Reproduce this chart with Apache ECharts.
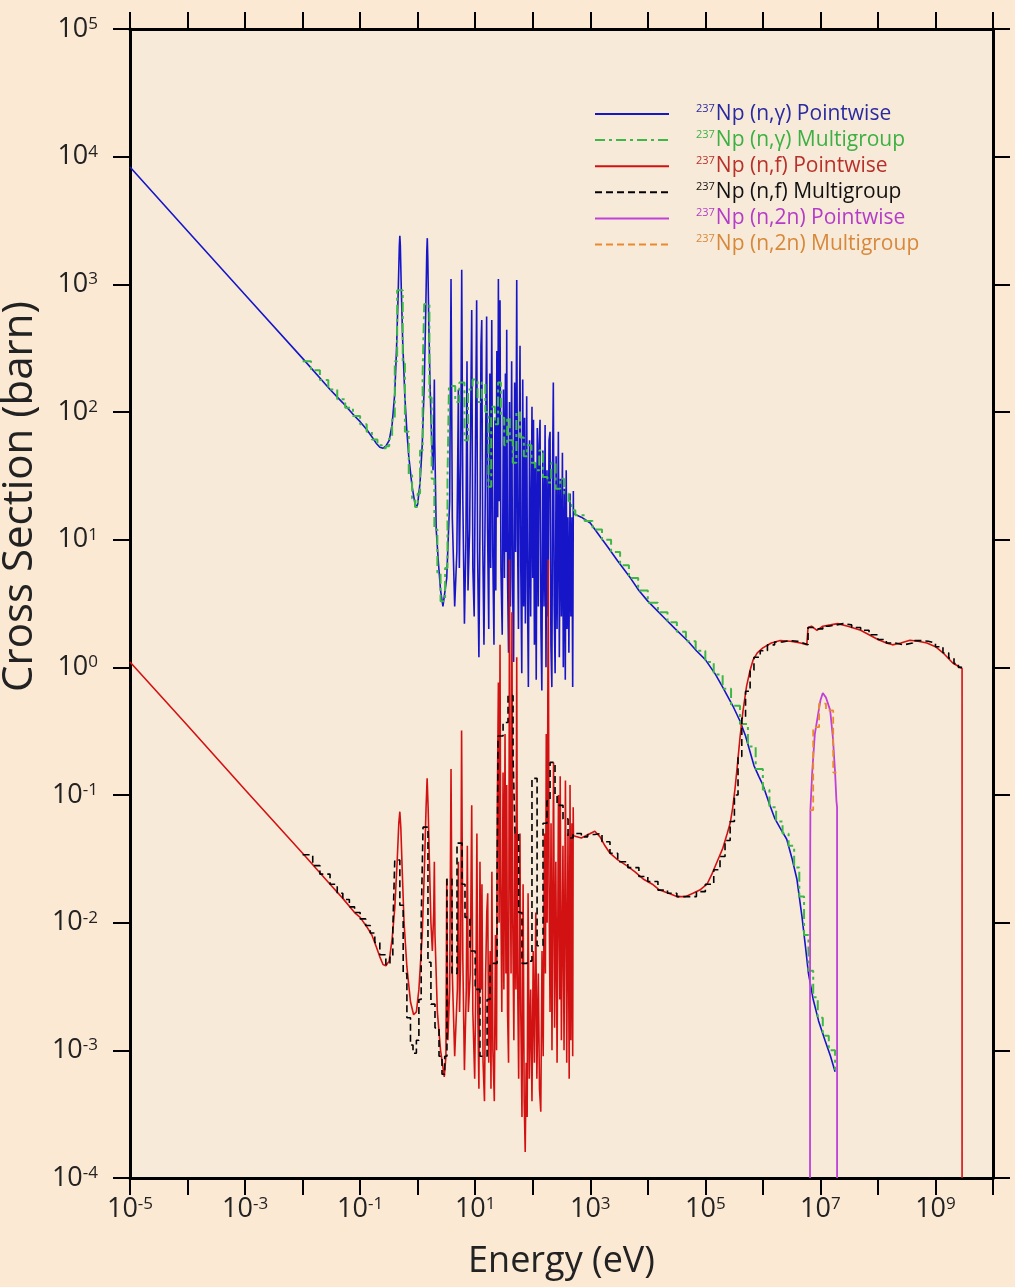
<!DOCTYPE html>
<html>
<head>
<meta charset="utf-8">
<script src="https://cdn.jsdelivr.net/npm/echarts@6/dist/echarts.min.js"></script>
<style>
  html, body { margin: 0; padding: 0; background: #FBE9D3; }
  #chart { width: 1015px; height: 1287px; }
</style>
</head>
<body>
<div id="chart"></div>
<script>
// energy (eV), cross section (barn) pairs

// 237Np (n,gamma) pointwise
var gammaThermal = [
  [1e-5, 8300], [1e-4, 2620], [1e-3, 830], [1e-2, 263], [0.03, 150], [0.05, 118], [0.08, 93],
  [0.1, 84], [0.13, 73], [0.16, 64], [0.19, 57], [0.22, 53], [0.25, 52], [0.28, 54], [0.32, 60],
  [0.36, 80], [0.4, 140], [0.43, 320], [0.46, 900], [0.48, 2000], [0.49, 2400], [0.5, 2000],
  [0.52, 900], [0.55, 350], [0.6, 130], [0.65, 70], [0.7, 45], [0.8, 26], [0.9, 19], [0.95, 18],
  [1.0, 19], [1.1, 28], [1.2, 55], [1.3, 160], [1.38, 600], [1.44, 1800], [1.47, 2300],
  [1.5, 1600], [1.56, 500], [1.65, 150], [1.75, 60], [1.85, 35], [1.92, 100], [1.95, 180],
  [1.98, 60], [2.1, 12], [2.3, 6.5], [2.5, 4], [2.75, 3.0]
];
var gammaResonance = [
  [3.2, 5], [3.6, 20], [3.8, 1100], [4.0, 15], [4.4, 3], [4.8, 8], [5.1, 150], [5.3, 6],
  [5.6, 40], [5.83, 1300], [6.1, 20], [6.5, 2.2], [6.9, 10], [7.2, 250], [7.5, 4], [8.0, 12],
  [8.7, 630], [9.1, 6], [9.6, 2.5], [10.0, 30], [10.6, 750], [11.0, 8], [11.6, 1.2], [12.2, 20],
  [12.6, 330], [13.0, 525], [13.5, 10], [14.2, 1.5], [15.0, 25], [15.8, 560], [16.4, 12],
  [17.2, 2.0], [18.0, 200], [18.6, 6], [19.4, 525], [20.2, 8], [21.2, 1.5], [22.0, 90],
  [22.8, 4], [23.8, 300], [24.6, 15], [25.3, 1100], [26.0, 20], [27.0, 750], [28.0, 6],
  [29.5, 1.8], [31.0, 150], [32.2, 5], [33.5, 200], [34.5, 8], [35.3, 440], [36.5, 5],
  [38.0, 1.3], [39.5, 120], [41.0, 3], [43.0, 250], [44.5, 5], [46.5, 1.1], [48.5, 170],
  [50.5, 8], [52.7, 1080], [54.5, 10], [56.5, 2.0], [58.5, 60], [60.1, 330], [62.0, 6],
  [64.5, 0.9], [67.0, 180], [69.5, 3], [72.0, 90], [74.5, 2.2], [78.5, 133], [81.0, 4],
  [84.0, 0.7], [88.0, 60], [92.0, 2.5], [97.0, 110], [100, 5], [103, 87], [107, 1.5],
  [111, 40], [115, 0.8], [120, 75], [125, 3], [129, 55], [134, 87], [139, 2.0], [144, 0.66],
  [150, 50], [157, 3], [164, 79], [170, 1.0], [177, 35], [184, 2.5], [192, 60], [200, 70],
  [207, 1.5], [215, 0.7], [222, 40], [228, 170], [236, 3], [245, 0.9], [255, 45], [265, 2],
  [279, 70], [290, 1.2], [302, 30], [315, 2.5], [328, 48], [340, 1.0], [355, 25], [368, 0.8],
  [382, 35], [395, 2], [410, 15], [425, 1.3], [445, 23], [460, 2.5], [480, 15], [495, 0.7],
  [508, 24], [510, 16]
];
var gammaFast = [
  [700, 15], [1000, 13.5], [1500, 10.5], [2000, 8.8], [3000, 6.8], [5000, 5.0], [7000, 4.0],
  [1e4, 3.3], [2e4, 2.4], [3e4, 2.0], [5e4, 1.6], [7e4, 1.35], [1e5, 1.15], [1.5e5, 0.88],
  [2e5, 0.7], [3e5, 0.5], [4e5, 0.38], [5e5, 0.29], [7e5, 0.17], [8.5e5, 0.14], [1e6, 0.12],
  [1.3e6, 0.085], [1.6e6, 0.066], [2e6, 0.055], [2.6e6, 0.045], [3.2e6, 0.032], [3.9e6, 0.022],
  [4.8e6, 0.011], [5.5e6, 0.0065], [6.2e6, 0.004], [7.5e6, 0.0025], [9.3e6, 0.0017],
  [1.2e7, 0.0012], [1.5e7, 0.0009], [1.8e7, 0.00068]
];

// 237Np (n,gamma) multigroup: [group lower energy, group value]
var gammaGroups = [
  [0.01, 250], [0.014, 212], [0.02, 178], [0.028, 150], [0.04, 126], [0.055, 108], [0.075, 93],
  [0.1, 80], [0.13, 70], [0.16, 61], [0.2, 55], [0.24, 52], [0.28, 54], [0.32, 62], [0.36, 90],
  [0.4, 250], [0.44, 900], [0.55, 240], [0.6, 70], [0.7, 32], [0.8, 21], [0.9, 18], [1.0, 23],
  [1.1, 50], [1.22, 200], [1.3, 700], [1.6, 130], [1.75, 30], [1.95, 12], [2.2, 5.5], [2.5, 3.3],
  [3.0, 6], [3.3, 30], [3.5, 160], [4.5, 120], [5.3, 170], [6.5, 60], [7.5, 150], [9.0, 180],
  [11, 120], [13, 170], [15, 100], [17, 26], [19, 110], [22, 80], [25, 170], [28, 90], [32, 55],
  [36, 90], [40, 60], [45, 40], [52, 100], [60, 63], [70, 45], [80, 55], [95, 40], [110, 35],
  [130, 50], [150, 31], [180, 28], [210, 40], [250, 25], [300, 30], [350, 23], [420, 20],
  [480, 17], [550, 15.5], [800, 14], [1100, 12], [1600, 10], [2300, 8], [3300, 6.3], [4700, 5],
  [6800, 4], [1e4, 3.2], [1.5e4, 2.7], [2.2e4, 2.25], [3.2e4, 1.9], [4.6e4, 1.6], [6.8e4, 1.35],
  [1e5, 1.1], [1.4e5, 0.88], [2e5, 0.68], [2.8e5, 0.5], [4e5, 0.36], [5.5e5, 0.24], [7.5e5, 0.16],
  [1e6, 0.11], [1.3e6, 0.08], [1.7e6, 0.062], [2.2e6, 0.05], [2.8e6, 0.04], [3.5e6, 0.027],
  [4.3e6, 0.016], [5.2e6, 0.008], [6.2e6, 0.0042], [7.5e6, 0.0026], [9e6, 0.0018],
  [1.1e7, 0.0013], [1.4e7, 0.001], [1.8e7, 0.0007]
];

// 237Np (n,f) pointwise
var fissionThermal = [
  [1e-5, 1.1], [1e-4, 0.35], [1e-3, 0.11], [1e-2, 0.035], [0.03, 0.02], [0.05, 0.0155],
  [0.08, 0.012], [0.1, 0.011], [0.13, 0.0093], [0.16, 0.008], [0.19, 0.0065], [0.22, 0.0054],
  [0.25, 0.0047], [0.28, 0.0046], [0.32, 0.005], [0.36, 0.0075], [0.4, 0.013], [0.44, 0.03],
  [0.47, 0.06], [0.49, 0.074], [0.51, 0.055], [0.54, 0.025], [0.58, 0.01], [0.65, 0.0045],
  [0.75, 0.0024], [0.85, 0.0019], [0.95, 0.002], [1.05, 0.003], [1.2, 0.008], [1.32, 0.03],
  [1.4, 0.08], [1.46, 0.135], [1.52, 0.08], [1.6, 0.03], [1.7, 0.01], [1.8, 0.006], [1.9, 0.012],
  [1.95, 0.03], [2.0, 0.008], [2.2, 0.002], [2.5, 0.001], [2.9, 0.00062]
];
var fissionResonance = [
  [3.1, 0.0009], [3.2, 0.022], [3.35, 0.0012], [3.6, 0.003], [3.8, 0.16], [4.0, 0.004],
  [4.4, 0.0009], [4.9, 0.003], [5.1, 0.03], [5.35, 0.002], [5.6, 0.006], [5.8, 0.32],
  [6.1, 0.005], [6.5, 0.0007], [7.0, 0.003], [7.3, 0.04], [7.6, 0.002], [8.2, 0.004],
  [8.7, 0.083], [9.1, 0.002], [9.8, 0.0006], [10.4, 0.006], [10.7, 0.05], [11.1, 0.002],
  [11.6, 0.0005], [12.1, 0.03], [12.6, 0.003], [13.1, 0.02], [13.7, 0.0008], [14.5, 0.0004],
  [15.2, 0.004], [15.9, 0.012], [16.5, 0.017], [17.2, 0.0008], [18.2, 0.006], [18.8, 0.0005],
  [19.5, 0.025], [20.3, 0.001], [21.5, 0.0004], [22.5, 0.008], [23.5, 0.001], [24.2, 0.08],
  [25.3, 0.76], [26.0, 0.01], [27.0, 1.5], [27.8, 0.02], [29.0, 0.002], [30.5, 0.15],
  [31.5, 0.003], [33.0, 0.3], [34.2, 0.004], [35.3, 0.12], [36.5, 0.002], [38.0, 0.0008],
  [39.5, 7.0], [40.5, 0.05], [42.0, 0.004], [43.5, 2.7], [45.0, 0.01], [47.0, 0.0012],
  [49.0, 0.05], [51.0, 0.003], [52.7, 1.2], [54.5, 0.004], [57.0, 0.0006], [60.0, 0.05],
  [62.0, 0.002], [65.0, 0.0003], [68.0, 0.02], [71.0, 0.0004], [74.0, 0.00016], [77.0, 0.0008],
  [80.0, 0.0003], [83.0, 0.017], [87.0, 0.0006], [92.0, 0.003], [97.0, 0.0004], [102, 0.006],
  [107, 0.0008], [113, 0.012], [118, 0.0006], [125, 0.004], [131, 0.0005], [138, 0.00033],
  [145, 0.006], [152, 0.0009], [160, 0.05], [166, 0.004], [172, 0.3], [178, 0.01], [186, 7.0],
  [192, 0.02], [200, 0.002], [208, 0.06], [216, 0.001], [230, 0.18], [240, 0.0015], [252, 0.03],
  [265, 0.0008], [280, 0.1], [295, 0.0025], [300, 0.14], [315, 0.0012], [335, 0.04], [350, 0.001],
  [370, 0.13], [390, 0.0008], [410, 0.05], [430, 0.0006], [445, 0.12], [460, 0.0012], [480, 0.06],
  [495, 0.0009], [505, 0.08], [510, 0.048]
];
var fissionFast = [
  [700, 0.046], [1000, 0.05], [1200, 0.052], [1480, 0.047], [1800, 0.04], [2200, 0.035],
  [3000, 0.031], [4300, 0.028], [6000, 0.025], [8300, 0.022], [1.2e4, 0.02], [1.6e4, 0.018],
  [2.3e4, 0.017], [3.2e4, 0.016], [4.5e4, 0.016], [6.1e4, 0.017], [8e4, 0.018], [1.07e5, 0.02],
  [1.3e5, 0.024], [1.6e5, 0.03], [2e5, 0.038], [2.4e5, 0.05], [2.7e5, 0.06], [3e5, 0.08],
  [3.3e5, 0.115], [3.6e5, 0.17], [4e5, 0.28], [4.5e5, 0.45], [5.2e5, 0.71], [6e5, 0.95],
  [6.8e5, 1.15], [8e5, 1.3], [1e6, 1.42], [1.4e6, 1.55], [2e6, 1.62], [3e6, 1.6], [4.5e6, 1.55],
  [5.8e6, 1.5], [6.1e6, 2.05], [7e6, 2.1], [8.7e6, 1.95], [1.1e7, 2.1], [1.5e7, 2.15],
  [2e7, 2.2], [3e7, 2.1], [5e7, 1.95], [7e7, 1.8], [1e8, 1.65], [1.4e8, 1.55], [1.8e8, 1.5],
  [2.5e8, 1.55], [3.6e8, 1.63], [5e8, 1.6], [7.1e8, 1.55], [1e9, 1.45], [1.35e9, 1.3],
  [2e9, 1.08], [2.9e9, 0.98], [2.9e9, 0.0001]
];

// 237Np (n,f) multigroup
var fissionGroups = [
  [0.01, 0.034], [0.015, 0.028], [0.02, 0.024], [0.03, 0.02], [0.04, 0.017], [0.05, 0.0152],
  [0.065, 0.0133], [0.08, 0.012], [0.1, 0.0107], [0.125, 0.0095], [0.15, 0.0083], [0.18, 0.007],
  [0.22, 0.0056], [0.28, 0.0047], [0.33, 0.0055], [0.37, 0.009], [0.4, 0.031], [0.49, 0.0137],
  [0.56, 0.004], [0.65, 0.0018], [0.75, 0.0011], [0.83, 0.00095], [0.95, 0.0012], [1.05, 0.0025],
  [1.15, 0.01], [1.24, 0.056], [1.51, 0.0049], [1.7, 0.0023], [2.0, 0.0015], [2.35, 0.0009],
  [2.65, 0.00065], [2.95, 0.0009], [3.23, 0.022], [3.95, 0.004], [4.83, 0.042], [5.9, 0.02],
  [6.65, 0.011], [8.1, 0.006], [10, 0.003], [12.1, 0.0009], [16.1, 0.0025], [18.1, 0.0048],
  [24, 0.02], [25, 0.29], [30.5, 0.37], [37.2, 0.6], [45.5, 0.2], [49.2, 0.05], [57, 0.012],
  [65, 0.0048], [79.5, 0.005], [97, 0.135], [119, 0.0066], [151, 0.06], [177, 0.09], [200, 0.18],
  [244, 0.1], [265, 0.083], [336, 0.065], [411, 0.046], [502, 0.05], [700, 0.047], [900, 0.049],
  [1200, 0.05], [1600, 0.043], [2200, 0.035], [3000, 0.03], [4500, 0.027], [7000, 0.023],
  [1e4, 0.021], [1.5e4, 0.018], [2.2e4, 0.017], [3.2e4, 0.016], [5e4, 0.016], [7e4, 0.0175],
  [1e5, 0.02], [1.4e5, 0.026], [1.8e5, 0.033], [2.2e5, 0.044], [2.7e5, 0.062], [3.2e5, 0.1],
  [3.7e5, 0.2], [4.3e5, 0.4], [5e5, 0.65], [6e5, 0.95], [7e5, 1.2], [9e5, 1.35], [1.2e6, 1.5],
  [1.6e6, 1.58], [2.2e6, 1.62], [3e6, 1.6], [4e6, 1.55], [5e6, 1.5], [6.1e6, 2.05], [7.5e6, 2.0],
  [9e6, 2.0], [1.1e7, 2.1], [1.4e7, 2.15], [1.9e7, 2.2], [2.5e7, 2.15], [3.5e7, 2.05], [5e7, 1.95],
  [7e7, 1.8], [1e8, 1.65], [1.4e8, 1.55], [2e8, 1.5], [2.8e8, 1.55], [4e8, 1.62], [5.5e8, 1.6],
  [7.5e8, 1.55], [1e9, 1.45], [1.35e9, 1.3], [1.7e9, 1.18], [2.1e9, 1.07], [2.5e9, 1.0], [2.9e9, 1.0]
];

// 237Np (n,2n)
var n2nPoint = [
  [6.6e6, 0.0001], [6.62e6, 0.02], [6.7e6, 0.076], [7.2e6, 0.15], [8e6, 0.3], [9.2e6, 0.44],
  [1.0e7, 0.55], [1.1e7, 0.63], [1.25e7, 0.58], [1.48e7, 0.46], [1.65e7, 0.28], [1.8e7, 0.15],
  [1.9e7, 0.09], [1.95e7, 0.08], [1.95e7, 0.0001]
];
var n2nGroups = [
  [6.6e6, 0.076], [7.5e6, 0.34], [9.5e6, 0.52], [1.25e7, 0.46], [1.67e7, 0.15], [1.9e7, 0.15]
];

var seriesNames = [
  'Np (n,\u03b3) Pointwise', 'Np (n,\u03b3) Multigroup', 'Np (n,f) Pointwise',
  'Np (n,f) Multigroup', 'Np (n,2n) Pointwise', 'Np (n,2n) Multigroup'
];
var lineColors = ['#1616C8', '#3DB848', '#D21212', '#000000', '#C040D8', '#EA8A2E'];
var textColors = ['#2A2AA0', '#3CB043', '#B8302A', '#111111', '#B43CC8', '#D8883A'];

var font = 'Open Sans';
var chart = echarts.init(document.getElementById('chart'));

function powLabel(v) {
  var e = Math.round(Math.log10(v));
  return '{b|10}{e|' + e + '}';
}
var labelRich = {
  b: { fontSize: 27, fontFamily: font, color: '#222' },
  e: { fontSize: 17, fontFamily: font, color: '#222', verticalAlign: 'top' }
};

function frameAxis(pos, extra) {
  var ax = {
    type: 'log',
    logBase: 10,
    position: pos,
    axisLine: { show: true, onZero: false, lineStyle: { color: '#000', width: 3 } },
    axisTick: { show: true, inside: false, length: 17, lineStyle: { color: '#000', width: 2 } },
    splitLine: { show: false },
    minorTick: { show: false },
    axisLabel: { show: false }
  };
  return Object.assign(ax, extra);
}

var xRange = { min: 1e-5, max: 1e10, interval: 1, splitNumber: 15 };
var yRange = { min: 1e-4, max: 1e5, interval: 1, splitNumber: 9 };

var option = {
  animation: false,
  backgroundColor: '#FBE9D3',
  grid: {
    left: 130, right: 22, top: 29, bottom: 109,
    show: true, backgroundColor: '#F8EAD9', borderWidth: 0,
    containLabel: false, outerBoundsMode: 'none'
  },
  xAxis: [
    frameAxis('bottom', Object.assign({
      name: 'Energy (eV)',
      nameLocation: 'middle',
      nameGap: 66,
      nameTextStyle: { fontSize: 36, fontFamily: font, color: '#222' },
      axisLabel: {
        show: true, margin: 18,
        formatter: function (v) {
          var e = Math.round(Math.log10(v));
          return (((e % 2) + 2) % 2 === 1) ? powLabel(v) : '';
        },
        rich: labelRich
      }
    }, xRange)),
    frameAxis('top', Object.assign({}, xRange))
  ],
  yAxis: [
    frameAxis('left', Object.assign({
      name: 'Cross Section (barn)',
      nameLocation: 'middle',
      nameGap: 78,
      // the title sits above the axis middle, so pad it on one side
      nameTextStyle: { fontSize: 42, fontFamily: font, color: '#222', padding: [0, 0, 0, 214] },
      axisLabel: { show: true, margin: 32, formatter: powLabel, rich: labelRich }
    }, yRange)),
    frameAxis('right', Object.assign({}, yRange))
  ],
  legend: {
    orient: 'vertical',
    left: 589,
    top: 98,
    itemWidth: 74,
    itemHeight: 14,
    itemGap: 4.6,
    selectedMode: false,
    itemStyle: { opacity: 0, borderWidth: 0 },
    data: seriesNames.map(function (n, i) {
      return { name: n, textStyle: { color: textColors[i] } };
    }),
    formatter: function (n) { return '{s|237}{t|' + n + '}'; },
    textStyle: {
      fontFamily: font,
      rich: {
        s: { fontSize: 11, fontFamily: font, verticalAlign: 'top', padding: [0, 1, 0, 22] },
        t: { fontSize: 21, fontFamily: font, lineHeight: 22 }
      }
    }
  },
  series: [
    {
      name: seriesNames[0], type: 'line', symbol: 'none', showSymbol: false,
      data: gammaThermal.concat(gammaResonance, gammaFast),
      lineStyle: { color: lineColors[0], width: 1.6 }, itemStyle: { color: lineColors[0] }
    },
    {
      name: seriesNames[1], type: 'line', symbol: 'none', showSymbol: false, step: 'end',
      data: gammaGroups,
      lineStyle: { color: lineColors[1], width: 2, type: [10, 4, 3, 4] }, itemStyle: { color: lineColors[1] }
    },
    {
      name: seriesNames[2], type: 'line', symbol: 'none', showSymbol: false,
      data: fissionThermal.concat(fissionResonance, fissionFast),
      lineStyle: { color: lineColors[2], width: 1.6 }, itemStyle: { color: lineColors[2] }
    },
    {
      name: seriesNames[3], type: 'line', symbol: 'none', showSymbol: false, step: 'end',
      data: fissionGroups,
      lineStyle: { color: lineColors[3], width: 1.6, type: [7, 4] }, itemStyle: { color: lineColors[3] }
    },
    {
      name: seriesNames[4], type: 'line', symbol: 'none', showSymbol: false,
      data: n2nPoint,
      lineStyle: { color: lineColors[4], width: 1.8 }, itemStyle: { color: lineColors[4] }
    },
    {
      name: seriesNames[5], type: 'line', symbol: 'none', showSymbol: false, step: 'end',
      data: n2nGroups,
      lineStyle: { color: lineColors[5], width: 1.8, type: [7, 4] }, itemStyle: { color: lineColors[5] }
    }
  ]
};

chart.setOption(option);
</script>
</body>
</html>
